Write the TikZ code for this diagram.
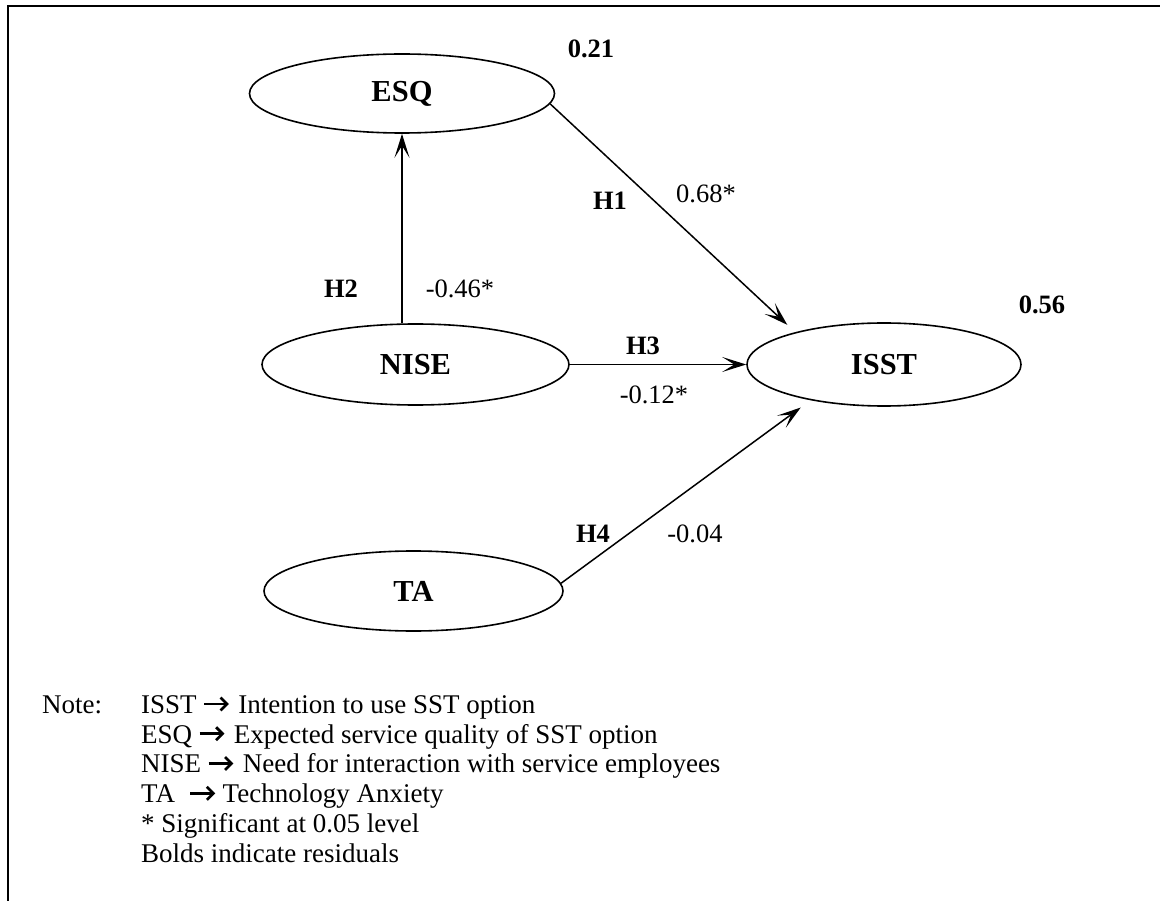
\documentclass[tikz,border=0pt]{standalone}
\usepackage{fontspec}
\setmainfont{Liberation Serif}
\usetikzlibrary{arrows.meta,shapes.geometric}

% bold arrow used in the legend
\newcommand{\notearrow}{\tikz[baseline=0pt]{%
  \draw[line width=2.7pt, line cap=butt] (0pt,9.3pt) -- (22pt,9.3pt);
  \draw[line width=2.7pt, line join=miter, line cap=butt] (16.5pt,15.8pt) -- (23pt,9.3pt) -- (16.5pt,2.8pt);}}

\begin{document}
\begin{tikzpicture}[x=1pt,y=-1pt,
  construct/.style={draw, ellipse, line width=1.6pt, inner sep=0pt,
    font=\fontsize{30.5}{34}\selectfont\bfseries},
  link/.style={line width=1.5pt, -{Stealth[length=24pt,width=15pt,inset=12pt]}},
  coef/.style={inner sep=0pt, font=\fontsize{26.5}{30}\selectfont},
  hyp/.style={inner sep=0pt, font=\fontsize{26.5}{30}\selectfont\bfseries},
  notetext/.style={inner sep=0pt, anchor=base west, font=\fontsize{27}{30}\selectfont},
]
\useasboundingbox (0,0) rectangle (1160,901);

% frame
\draw[line width=2pt] (8.3,901) -- (8.3,6) -- (1160,6);

% constructs
\node[construct, minimum width=305pt, minimum height=79pt] (ESQ)  at (402,93.5)   {ESQ};
\node[construct, minimum width=307pt, minimum height=81pt] (NISE) at (415.5,364.5) {NISE};
\node[construct, minimum width=274pt, minimum height=83pt] (ISST) at (884,364.5)  {ISST};
\node[construct, minimum width=299pt, minimum height=80pt] (TA)   at (413.5,591)  {TA};

% paths
\draw[link, shorten >=10.7pt] (ESQ.-4.1) -- (ISST.160.9);
\draw[link] (ESQ.south |- NISE.north) -- (ESQ.south);
\draw[link] (NISE.east) -- (ISST.west);
\draw[link, shorten >=12.2pt] (TA.3.1) -- (ISST.206);

% residuals
\node[hyp] (resESQ)  at (591,49)   {0.21};
\node[hyp] (resISST) at (1042,305) {0.56};

% hypotheses and coefficients
\node[hyp]  (h1) at (610,201) {H1};
\node[coef] (c1) at (706,194) {0.68*};
\node[hyp]  (h2) at (341,289) {H2};
\node[coef] (c2) at (460,289) {-0.46*};
\node[hyp]  (h3) at (643,346) {H3};
\node[coef] (c3) at (654,395) {-0.12*};
\node[hyp]  (h4) at (593,534) {H4};
\node[coef] (c4) at (695,534) {-0.04};

% legend
\node[notetext] (n0) at (42,713.3)  {Note:};
\node[notetext] (n1) at (141,713.3) {ISST\hspace{6pt}\notearrow\hspace{10pt}Intention to use SST option};
\node[notetext] (n2) at (141,743)   {ESQ\hspace{6pt}\notearrow\hspace{10pt}Expected service quality of SST option};
\node[notetext] (n3) at (141,772.8) {NISE\hspace{6pt}\notearrow\hspace{10pt}Need for interaction with service employees};
\node[notetext] (n4) at (141,802.6) {TA\hspace{14pt}\notearrow\hspace{8pt}Technology Anxiety};
\node[notetext] (n5) at (141,832.4) {* Significant at 0.05 level};
\node[notetext] (n6) at (141,862.2) {Bolds indicate residuals};
\end{tikzpicture}
\end{document}
